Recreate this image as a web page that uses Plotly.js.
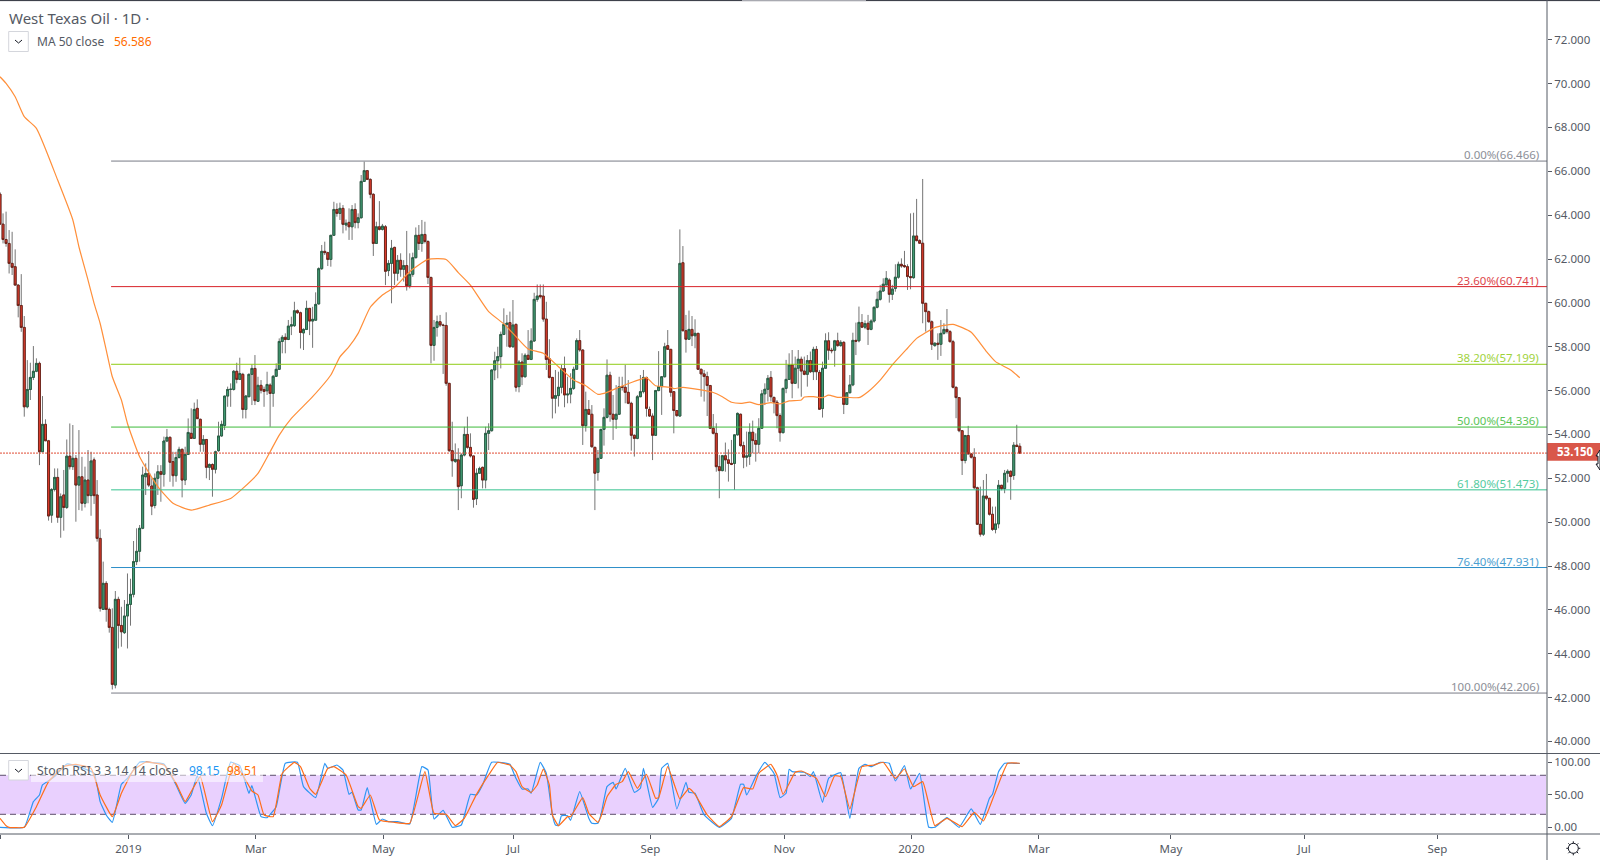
<!DOCTYPE html>
<html>
<head>
<meta charset="utf-8">
<title>West Texas Oil 1D</title>
<script src="https://cdn.plot.ly/plotly-3.0.1.min.js"></script>
<style>
html, body { margin: 0; padding: 0; background: #fff; }
#chart { width: 1600px; height: 860px; }
</style>
</head>
<body>
<div id="chart"></div>
<script>
'use strict';

// daily candles, one row per 10 bars
const opens = [
  64.96,63.59,62.89,62.71,61.80,61.65,60.81,59.88,58.88,55.26,
  56.05,56.60,56.88,57.24,53.21,54.46,53.71,50.32,51.49,52.04,
  50.22,51.24,50.67,53.01,52.53,52.91,51.69,52.07,50.86,51.92,
  51.21,52.84,51.24,49.26,46.02,47.21,46.02,45.20,42.57,46.48,
  45.29,44.96,45.72,46.25,46.71,48.20,48.67,49.72,52.07,52.22,
  51.65,50.76,52.00,52.30,52.18,53.70,53.87,52.76,52.12,52.95,
  53.32,51.92,53.09,54.05,53.82,55.19,54.69,53.55,53.77,52.50,
  52.63,52.41,53.26,53.93,54.41,55.75,56.05,56.05,56.88,56.51,
  56.74,55.14,55.72,56.74,57.01,55.51,56.24,56.05,55.99,56.25,
  55.87,56.65,56.97,58.24,58.43,58.33,58.94,58.96,59.64,59.55,
  58.63,58.79,59.75,59.17,59.21,59.95,61.56,62.35,62.29,61.98,
  63.08,64.26,64.08,64.31,63.55,63.67,63.47,64.26,63.66,63.88,
  65.54,66.03,65.63,64.95,62.71,63.47,63.35,63.47,61.47,61.80,
  62.53,61.35,61.94,61.53,61.70,60.78,61.30,62.06,63.08,62.71,
  63.12,62.80,61.16,58.06,58.88,59.14,58.99,58.97,56.33,53.26,
  52.77,52.84,51.66,53.06,54.00,53.41,53.02,51.07,52.23,52.50,
  51.92,54.05,54.17,56.94,57.36,57.55,58.56,59.02,59.10,58.00,
  59.02,56.18,57.30,56.63,57.61,57.42,58.26,60.16,60.34,60.31,
  59.26,57.45,56.60,55.65,55.77,56.15,57.00,55.80,55.84,56.10,
  56.97,58.28,57.85,54.40,55.14,54.92,53.41,52.27,52.91,54.23,
  54.78,56.70,54.92,54.69,54.92,56.18,56.15,55.92,55.42,53.96,
  53.82,55.72,55.95,56.60,55.14,54.84,53.96,56.00,56.18,56.63,
  58.05,57.88,55.95,55.09,54.84,61.83,58.73,58.34,58.79,58.50,
  58.61,56.97,56.76,56.64,56.23,54.28,54.05,52.53,52.35,53.03,
  52.84,52.68,52.68,53.98,54.92,53.49,52.96,53.00,54.10,53.72,
  53.55,54.28,55.85,56.06,56.60,55.69,55.47,54.86,54.08,56.10,
  56.51,57.17,56.33,57.02,57.43,56.89,56.74,57.37,56.86,57.88,
  56.83,55.18,57.02,58.27,57.84,57.84,58.27,58.05,58.20,55.37,
  55.90,56.26,58.29,58.27,59.10,58.89,59.07,58.79,59.17,59.80,
  60.16,60.54,60.82,61.04,60.39,60.66,61.17,61.76,61.70,61.65,
  61.20,61.15,63.05,62.84,62.72,59.98,59.60,59.14,58.05,58.16,
  58.11,58.61,58.79,58.69,58.23,56.15,55.68,54.17,52.81,53.95,
  53.11,52.96,51.57,49.90,49.45,51.19,51.09,50.36,49.67,49.92,
  51.68,51.53,52.23,52.32,52.13,53.51,53.46
];
const highs = [
  65.05,64.08,64.16,63.32,63.24,62.44,60.85,61.31,59.40,57.39,
  57.27,58.03,57.47,57.32,55.75,54.69,53.75,51.55,52.45,52.45,
  51.31,52.38,53.77,54.50,54.43,53.06,54.20,52.98,52.53,53.29,
  53.21,52.95,51.92,49.67,48.20,47.31,46.10,46.07,46.86,46.60,
  46.14,46.45,47.66,47.42,49.14,49.72,49.87,52.53,52.68,53.24,
  52.00,52.22,52.60,52.60,53.90,54.25,53.90,53.21,53.21,53.44,
  53.36,53.44,54.73,55.19,55.45,55.60,54.72,53.97,53.77,52.68,
  52.68,53.26,54.58,54.63,55.75,56.18,56.33,56.94,57.27,57.50,
  56.81,55.80,56.78,57.19,57.62,56.63,56.48,56.18,56.86,56.33,
  56.71,57.24,58.38,58.53,58.61,59.22,59.37,60.05,59.70,59.60,
  58.84,60.10,59.75,59.82,60.48,61.62,62.64,62.79,62.33,63.10,
  64.61,64.54,64.57,64.46,63.80,64.31,64.46,64.54,64.08,65.83,
  66.44,66.06,65.68,65.00,63.70,64.64,63.60,63.55,61.95,62.87,
  62.56,62.18,62.26,61.95,63.28,62.26,62.29,63.44,63.55,63.78,
  63.70,62.85,61.19,59.22,59.42,59.45,59.05,59.57,56.33,54.58,
  53.59,53.37,53.14,54.35,54.81,54.05,53.02,52.45,52.53,52.53,
  54.35,54.51,56.96,57.77,58.00,58.69,59.75,59.45,59.60,60.13,
  59.05,57.39,57.70,57.70,58.76,58.84,60.46,60.84,60.84,60.84,
  60.05,58.34,56.62,56.94,56.86,57.17,57.55,56.63,56.79,57.09,
  58.38,58.76,57.88,55.95,55.57,55.34,53.44,53.29,54.25,55.19,
  57.42,56.86,55.80,56.25,56.63,56.63,57.17,56.48,55.49,54.00,
  55.80,56.71,56.94,56.63,55.27,54.96,56.03,57.80,56.66,58.18,
  58.76,57.90,55.98,55.10,63.35,62.59,59.45,59.65,59.40,59.25,
  58.63,57.00,56.94,56.86,56.26,54.93,54.51,53.06,53.06,53.63,
  53.32,53.75,54.00,55.00,54.95,53.67,54.13,54.51,54.63,54.05,
  54.74,56.03,56.33,56.71,56.89,55.72,55.57,54.96,56.13,57.40,
  57.70,57.85,57.55,57.85,57.55,57.55,57.62,57.78,58.00,58.03,
  56.94,57.32,58.61,58.66,57.95,58.31,58.64,58.30,58.25,55.92,
  56.71,58.64,59.10,59.83,59.49,59.20,59.45,59.25,59.83,60.51,
  60.82,61.12,61.45,61.12,60.82,61.76,61.88,62.03,62.37,61.76,
  64.08,64.11,64.74,62.90,65.65,60.00,59.65,59.20,58.20,58.61,
  59.22,59.07,59.72,58.76,58.31,56.18,55.70,54.20,53.98,54.39,
  53.15,53.37,51.62,51.62,51.92,52.20,51.10,50.71,50.71,51.92,
  51.70,52.38,52.41,52.36,53.65,54.44,53.60
];
const lows = [
  63.59,62.71,62.56,61.34,61.27,60.81,59.34,58.68,54.81,55.19,
  55.57,56.48,56.84,52.60,53.21,53.71,50.07,49.97,51.40,49.97,
  49.29,49.61,50.60,52.40,52.38,50.02,50.55,50.52,50.67,50.86,
  50.29,50.83,49.11,45.92,46.02,45.46,44.96,42.37,42.42,44.24,
  44.32,44.90,44.24,45.28,46.57,48.04,48.20,49.68,51.24,51.60,
  50.32,50.63,51.24,50.93,51.62,53.65,51.84,51.62,51.84,52.90,
  51.13,51.69,53.06,53.80,53.80,54.72,53.21,53.21,52.00,51.92,
  51.16,52.22,53.21,53.90,54.20,55.26,55.26,56.00,56.33,56.48,
  54.73,54.73,55.70,55.34,55.34,55.49,55.87,55.26,55.80,54.35,
  55.26,56.63,56.94,57.70,57.70,58.30,58.53,58.90,59.50,57.92,
  57.85,58.76,58.53,57.95,59.21,59.93,61.50,62.18,61.68,61.65,
  63.05,63.93,63.78,63.17,63.30,62.87,62.87,63.40,63.40,63.85,
  65.52,65.60,64.77,62.14,62.70,63.30,63.30,60.81,61.22,59.98,
  60.81,61.01,61.19,60.97,60.56,60.66,61.19,62.03,62.41,62.33,
  62.71,60.86,57.24,57.36,58.46,58.90,56.76,56.22,53.20,52.07,
  52.70,50.55,51.09,53.00,53.35,52.95,50.66,50.78,52.20,51.54,
  51.54,53.29,54.13,56.48,56.56,57.01,58.53,58.00,57.95,57.95,
  55.95,55.92,56.25,56.60,57.40,57.39,58.23,60.05,60.20,59.14,
  56.94,56.55,54.73,54.96,55.27,55.87,55.24,55.42,55.42,56.03,
  56.94,57.77,53.52,54.13,54.90,53.40,50.55,51.89,52.88,53.49,
  54.73,54.58,53.75,54.25,54.89,56.00,55.42,55.38,53.26,52.99,
  53.78,55.70,55.87,54.81,54.80,52.83,53.93,55.97,54.89,56.60,
  57.85,55.72,54.05,54.80,54.81,58.70,57.73,58.31,58.03,57.93,
  56.94,55.72,55.50,54.84,54.25,54.00,52.30,51.09,52.32,52.30,
  51.85,52.60,51.47,53.95,53.44,52.46,52.53,52.61,53.14,52.76,
  53.14,54.25,55.34,55.50,55.50,54.96,54.28,53.67,54.05,55.88,
  56.48,55.65,56.30,56.10,55.72,56.70,56.18,56.80,56.48,56.48,
  55.12,54.77,56.99,57.40,57.70,57.09,58.00,58.00,54.93,55.34,
  55.88,56.20,57.62,58.20,58.85,58.80,58.08,58.75,59.10,59.75,
  60.10,60.50,60.80,60.01,60.13,60.51,61.10,61.60,61.60,60.59,
  60.62,61.10,62.80,62.70,59.07,58.69,59.10,57.85,58.00,57.40,
  57.58,58.55,58.60,58.20,56.10,54.74,54.10,52.15,52.68,53.10,
  52.90,51.50,49.87,49.34,49.37,51.00,50.30,49.60,49.49,49.72,
  51.45,51.32,51.81,51.02,51.93,53.42,53.11
];
const closes = [
  63.59,62.89,62.71,61.80,61.62,60.81,59.88,58.88,55.26,56.05,
  56.60,56.88,57.24,53.21,54.46,53.71,50.28,51.49,52.04,50.22,
  51.16,50.67,53.01,52.53,52.91,51.69,52.07,50.86,51.92,51.21,
  52.79,51.21,49.26,46.07,47.21,46.02,45.20,42.60,46.48,45.29,
  45.00,45.72,46.25,46.71,48.20,48.67,49.72,52.15,52.22,51.69,
  50.73,52.00,52.30,52.18,53.70,53.87,52.73,52.12,52.95,53.32,
  51.92,53.09,54.09,53.82,55.14,54.72,53.55,53.77,52.50,52.63,
  52.41,53.21,53.93,54.46,55.75,56.05,56.06,56.88,56.51,56.78,
  55.14,55.75,56.74,57.01,55.54,56.24,56.02,55.96,56.28,55.87,
  56.65,56.97,58.24,58.43,58.33,58.94,59.00,59.64,59.55,58.65,
  58.79,59.75,59.17,59.25,59.93,61.56,62.35,62.29,61.98,63.08,
  64.26,64.08,64.31,63.58,63.63,63.47,64.26,63.66,63.88,65.54,
  66.03,65.63,64.95,62.71,63.47,63.35,63.50,61.44,61.80,62.49,
  61.35,61.94,61.53,61.70,60.78,61.30,62.06,63.08,62.71,63.12,
  62.80,61.16,58.06,58.88,59.14,58.99,58.97,56.33,53.26,52.80,
  52.86,51.62,53.06,54.00,53.41,53.02,51.04,52.23,52.45,51.92,
  54.05,54.17,56.94,57.36,57.55,58.56,59.02,59.07,58.00,58.99,
  56.15,57.30,56.63,57.61,57.42,58.26,60.16,60.31,60.28,59.26,
  57.42,56.60,55.65,55.77,56.15,57.00,55.80,55.84,56.10,56.97,
  58.28,57.85,54.40,55.14,54.92,53.44,52.23,52.91,54.23,54.78,
  56.70,54.92,54.69,54.92,56.18,56.15,55.92,55.42,53.96,53.82,
  55.72,55.95,56.60,55.19,54.84,53.96,56.00,56.18,56.63,58.00,
  57.88,55.92,55.09,54.86,61.80,58.73,58.34,58.79,58.50,58.61,
  56.97,56.76,56.64,56.23,54.28,54.05,52.53,52.35,53.03,52.84,
  52.68,52.64,53.98,54.96,53.49,52.96,53.02,54.10,53.72,53.55,
  54.28,55.85,56.06,56.56,55.72,55.47,54.86,54.08,56.10,56.51,
  57.17,56.33,57.02,57.43,56.89,56.74,57.37,56.86,57.88,56.86,
  55.15,57.02,58.27,57.84,57.82,58.27,58.05,58.20,55.37,55.90,
  56.26,58.29,58.25,59.11,58.89,59.05,58.79,59.17,59.80,60.16,
  60.54,60.85,61.12,60.39,60.63,61.17,61.76,61.68,61.65,61.20,
  61.15,63.05,62.84,62.72,59.98,59.60,59.14,58.11,58.16,58.11,
  58.61,58.79,58.69,58.23,56.15,55.68,54.17,52.81,53.95,53.11,
  52.96,51.57,49.90,49.45,51.19,51.09,50.36,49.67,49.92,51.68,
  51.53,52.23,52.32,52.08,53.51,53.45,53.15
];

// MA 50, read at the bars where the curve bends
const maBars = [0,2,5,8,12,19,24,26,29,31,33,35,37,40,42,46,52,57,63,69,76,80,85,89,92,96,103,109,112,
  115,118,122,126,130,135,141,147,151,155,161,166,170,174,179,184,189,193,197,200,205,211,213,216,221,
  222,225,231,235,238,241,244,247,250,254,257,260,264,265,268,271,273,276,279,283,286,290,294,299,302,308,314,320,325,328,333,336];
const maValues = [70.31,70.01,69.40,68.49,67.96,65.60,63.78,62.56,61.04,59.98,59.06,57.85,56.63,55.57,54.50,52.98,51.62,50.86,50.55,50.78,51.08,51.54,52.22,53.21,53.97,54.73,55.72,56.71,57.54,
  58.00,58.61,59.80,60.36,60.71,61.42,61.98,61.98,61.38,60.81,59.60,59.04,58.46,57.90,57.70,57.09,56.48,56.22,55.83,55.92,56.21,56.51,56.59,56.22,56.15,
  56.09,56.15,56.03,55.91,55.72,55.47,55.42,55.47,55.36,55.45,55.39,55.53,55.57,55.71,55.72,55.68,55.79,55.69,55.69,55.68,55.95,56.48,57.17,57.93,58.38,58.87,59.02,58.66,57.78,57.32,56.94,56.586];

// stoch RSI lines, read at their turning points
const kBars = [0,8,11,13,14,18,22,26,31,33,35,37,40,42,46,49,54,58,61,63,65,68,70,73,76,79,82,83,86,88,91,94,98,100,104,107,108,111,113,115,116,118,119,121,124,126,128,131,135,139,141,143,146,149,152,155,157,159,162,167,
  168,170,172,174,175,178,180,182,183,184,185,187,188,191,194,195,197,198,200,202,203,206,209,211,212,215,217,218,220,223,226,227,229,232,237,241,244,245,246,249,252,255,257,259,260,261,265,267,268,271,273,277,280,283,285,287,290,293,295,298,300,303,306,308,312,316,320,323,326,327,329,331,334,336];
const kValues = [0,0,39.4,49.7,65.1,77.9,97.4,93.3,83,39.4,19,7.6,66.1,75.3,100,100,97.4,65.1,36.9,49.7,79.4,21.5,2.5,44.6,100,94.8,52.3,64,16.4,14.8,31.7,98.4,100,62.5,45.6,98.4,90.7,95.8,88.2,50.7,53.8,26.6,26.6,61,4.6,12.8,8.7,8.7,5.1,93.3,88.2,12.8,26.1,0,3.5,50.7,49.7,65.1,100,98.4,
  96.9,75.3,58.9,58.9,52.3,100,83,19,3.5,2.5,17.9,17.9,10.7,54.8,13.8,6.1,6.1,19,62.5,69.2,58.9,90.7,53.8,60,90.7,30.7,44.6,90.7,98.4,28.2,69.2,53.8,52.3,19,0,13.8,66.1,66.1,49.7,77.9,100,83,45.6,52.3,89.2,85.6,84.6,77.9,85.6,38.4,75.3,84,13.8,90.7,96.9,93.3,100,98.4,71.2,94.8,58.9,83,0,0,14.8,0,28.2,4.6,44.6,50.7,85.6,98.4,98.4,98.15];
const dBars = [0,2,3,8,12,16,21,25,30,33,37,40,44,48,54,58,61,63,66,70,73,77,80,83,85,87,90,93,97,99,102,104,108,110,114,118,119,122,125,130,135,140,143,147,150,153,157,161,164,167,
  168,170,172,175,177,179,181,182,184,187,188,192,194,197,198,200,203,205,207,210,213,216,217,220,224,227,229,233,237,241,245,248,250,254,256,258,262,264,269,272,275,277,280,284,288,291,295,298,301,304,308,312,317,321,324,328,332,336];
const dValues = [13.8,2.5,0,0,31.7,70.2,93.3,96.9,90.7,49.7,16.4,52.3,88.2,100,95.8,67.6,39.4,54.8,77.9,8.7,34.3,98.4,80.5,55.8,49.7,19,16.4,83,100,93.3,60,50.7,90.7,93.3,80.5,31.7,29.2,49.7,11.2,7.6,6.1,85.6,21.5,20,2.5,13.8,50.7,80.5,100,96.9,
  95.8,85.6,62.5,53.8,65.1,89.7,65.1,19,2.5,16.4,16.4,45.6,21.5,7.6,16.4,47.1,66.1,70.2,85.6,60,81.5,44.6,45.6,93.3,43.5,60,50.7,19,1,16.4,61,58.9,83,96.9,80.5,50.7,84.6,86.6,75.3,47.1,79.4,77.9,28.2,93.3,95.8,100,75.3,89.7,62.5,70.2,2.5,13.8,1,23,9.7,54.8,98.4,98.51];

// time scale is by bar, not by calendar
const timeTickBars = [0.3,42.3,84.25,126.3,169.1,214.3,258.4,300.3,342.3,385.8,429.7,473.6];
const timeTickLabels = ['Nov','2019','Mar','May','Jul','Sep','Nov','2020','Mar','May','Jul','Sep'];

// fibonacci retracement
const fibRatios = ['0.00%','23.60%','38.20%','50.00%','61.80%','76.40%','100.00%'];
const fibPrices = [66.466,60.741,57.199,54.336,51.473,47.931,42.206];
const fibColors = ['#787b86','#d8232a','#8fcc15','#3dbb3a','#35c28f','#2d8fc9','#787b86'];
const fibStartBar = 36.6;

const lastPrice = 53.150;
const stochTicks = [0,50,100];
const stochTickLabels = ['0.00','50.00','100.00'];

const FONT = '"Noto Sans", sans-serif';
const GREY = '#555a64';

// plot area in page pixels, used for the things drawn around the axes
const plotW = 1547, plotTop = 2, plotBottom = 834, splitY = 753.5;
const plotH = plotBottom - plotTop;
const px = x => x / plotW;
const py = y => 1 - (y - plotTop) / plotH;

function pageLine(x0, y0, x1, y1, color, width) {
    return {type: 'line', xref: 'paper', yref: 'paper', x0: px(x0), y0: py(y0), x1: px(x1), y1: py(y1),
        line: {color: color, width: width || 1}};
}
function pagePath(points, color, fill) {
    let d = points.map((p, i) => (i ? 'L' : 'M') + px(p[0]) + ',' + py(p[1])).join(' ');
    if (fill) d += ' Z';
    return {type: 'path', xref: 'paper', yref: 'paper', path: d,
        line: {color: color, width: 1}, fillcolor: fill || 'rgba(0,0,0,0)'};
}
function pageRect(x0, y0, x1, y1, fill, lineColor) {
    return {type: 'rect', xref: 'paper', yref: 'paper', x0: px(x0), y0: py(y0), x1: px(x1), y1: py(y1),
        fillcolor: fill, line: {color: lineColor || 'rgba(0,0,0,0)', width: lineColor ? 1 : 0}};
}
function pageText(x, y, text, size, color, anchor) {
    return {xref: 'paper', yref: 'paper', x: px(x), y: py(y), text: text, showarrow: false, borderpad: 0,
        xanchor: anchor || 'left', yanchor: 'middle', font: {family: FONT, size: size, color: color}};
}
function chevron(cx, cy) {
    return pagePath([[cx - 3.5, cy - 1.5], [cx, cy + 1.5], [cx + 3.5, cy - 1.5]], '#131722');
}

const bars = closes.map((c, i) => i);
const bodyTop = opens.map((o, i) => Math.max(o, closes[i]));
const bodyBottom = opens.map((o, i) => Math.min(o, closes[i]));

const traces = [
    {   // the wicks are grey, so they get their own trace under the bodies
        type: 'candlestick', x: bars, open: opens, high: highs, low: lows, close: closes,
        whiskerwidth: 0, hoverinfo: 'skip', showlegend: false,
        increasing: {line: {color: '#757575', width: 1}, fillcolor: '#757575'},
        decreasing: {line: {color: '#757575', width: 1}, fillcolor: '#757575'}
    },
    {
        type: 'candlestick', x: bars, open: opens, high: bodyTop, low: bodyBottom, close: closes,
        whiskerwidth: 0, hoverinfo: 'skip', showlegend: false,
        increasing: {line: {color: '#245a41', width: 0.9}, fillcolor: '#45a078'},
        decreasing: {line: {color: '#6a2016', width: 0.9}, fillcolor: '#e23d2d'}
    },
    {
        type: 'scatter', mode: 'lines', x: maBars, y: maValues, hoverinfo: 'skip', showlegend: false,
        line: {color: '#ff8f3a', width: 1.2, shape: 'spline', smoothing: 0.5}
    },
    {
        type: 'scatter', mode: 'lines', x: kBars, y: kValues, xaxis: 'x', yaxis: 'y2', hoverinfo: 'skip', showlegend: false,
        line: {color: '#2e96f3', width: 1.2, shape: 'spline', smoothing: 0.35}
    },
    {
        type: 'scatter', mode: 'lines', x: dBars, y: dValues, xaxis: 'x', yaxis: 'y2', hoverinfo: 'skip', showlegend: false,
        line: {color: '#ff6d1a', width: 1.2, shape: 'spline', smoothing: 0.35}
    }
];

const shapes = [];
const annotations = [];

// stoch band and its dashed limits go under the lines
shapes.push({type: 'rect', layer: 'below', xref: 'paper', yref: 'y2', x0: 0, x1: px(1546), y0: 20, y1: 80,
    fillcolor: '#e9d0fe', line: {width: 0}});
[20, 80].forEach(v => shapes.push({type: 'line', layer: 'below', xref: 'paper', yref: 'y2', x0: 0, x1: 1, y0: v, y1: v,
    line: {color: '#5d4e6b', width: 1, dash: '6px,4px'}}));

fibPrices.forEach((p, i) => {
    shapes.push({type: 'line', xref: 'x', yref: 'y', x0: fibStartBar, x1: 509.7, y0: p, y1: p,
        line: {color: fibColors[i], width: 1}});
    annotations.push({xref: 'paper', yref: 'y', x: px(1540), y: p, xanchor: 'right', yanchor: 'bottom', yshift: -2,
        showarrow: false, borderpad: 0, opacity: 0.85,
        text: fibRatios[i] + '(' + p.toFixed(3) + ')',
        font: {family: FONT, size: 11.5, color: fibColors[i]}});
});

// last price
shapes.push({type: 'line', xref: 'paper', yref: 'y', x0: 0, x1: 1, y0: lastPrice, y1: lastPrice,
    line: {color: '#e04a33', width: 1, dash: '2px,1px'}});
shapes.push(pageRect(1547, 443, 1600, 460.7, '#d9574a'));
annotations.push(pageText(1555.5, 451.8, '<b>' + lastPrice.toFixed(3) + '</b>', 11.5, '#ffffff'));

// frame
shapes.push(pageLine(0, 0.6, 1600, 0.6, '#2a2e39'));
shapes.push(pageLine(742, 0.6, 866, 0.6, '#b4b6bc'));
shapes.push(pageLine(0, splitY, 1600, splitY, GREY));
shapes.push(pageLine(0, plotBottom, 1600, plotBottom, GREY));
shapes.push(pageLine(plotW, 0, plotW, 860, GREY));

// legends
annotations.push(pageText(8, 17.5, 'West Texas Oil · 1D ·', 15, '#555a64'));
shapes.push(pageRect(8.7, 31.5, 28.3, 51.5, '#ffffff', '#d4d6dc'));
shapes.push(chevron(18.5, 41.5));
annotations.push(pageText(35.5, 41.5, 'MA 50 close', 12, '#555a64'));
annotations.push(pageText(113, 41.5, '56.586', 12, '#ff6d00'));

shapes.push(pageRect(31, 762, 263, 782, 'rgba(255,255,255,0.55)'));
shapes.push(pageRect(8.7, 760.5, 28.3, 780, '#ffffff', '#d4d6dc'));
shapes.push(chevron(18.5, 770.5));
annotations.push(pageText(35.5, 770.5, 'Stoch RSI 3 3 14 14 close', 12.3, '#555a64'));
annotations.push(pageText(187.5, 770.5, '98.15', 12, '#2196f3'));
annotations.push(pageText(226, 770.5, '98.51', 12, '#ff6d00'));

// settings gear in the corner
const gearX = 1573.3, gearY = 848.3;
shapes.push({type: 'circle', xref: 'paper', yref: 'paper', x0: px(gearX - 5), x1: px(gearX + 5), y0: py(gearY + 5), y1: py(gearY - 5),
    line: {color: '#131722', width: 1}, fillcolor: '#ffffff'});
for (let a = 0; a < 8; a++) {
    const c = Math.cos(a * Math.PI / 4), s = Math.sin(a * Math.PI / 4);
    shapes.push(pageLine(gearX + 5 * c, gearY + 5 * s, gearX + 7 * c, gearY + 7 * s, '#131722'));
}
// mouse pointer left on the price scale
shapes.push(pagePath([[1600, 450], [1596, 456], [1598, 456], [1598, 464], [1596, 464], [1600, 470]], '#131722', '#ffffff'));

const layout = {
    width: 1600, height: 860,
    margin: {l: 0, r: 1600 - plotW, t: plotTop, b: 860 - plotBottom, pad: 0},
    paper_bgcolor: '#ffffff', plot_bgcolor: '#ffffff',
    showlegend: false, dragmode: false, boxgap: 0.08,
    font: {family: FONT, size: 11.5, color: GREY},
    xaxis: {
        range: [0, 509.7], anchor: 'y2', rangeslider: {visible: false},
        tickmode: 'array', tickvals: timeTickBars, ticktext: timeTickLabels,
        ticks: 'outside', ticklen: 4, tickcolor: GREY, tickwidth: 1,
        showgrid: false, zeroline: false, showline: false,
        tickfont: {family: FONT, size: 11.5, color: GREY}
    },
    yaxis: {
        domain: [(plotBottom - splitY) / plotH, 1], range: [39.45, 73.72], side: 'right', anchor: 'x',
        tick0: 40, dtick: 2, tickformat: '.3f',
        ticks: 'outside', ticklen: 4, tickcolor: GREY, tickwidth: 1,
        showgrid: false, zeroline: false, showline: false,
        tickfont: {family: FONT, size: 11.5, color: GREY}
    },
    yaxis2: {
        domain: [0, (plotBottom - splitY) / plotH], range: [-10.3, 113.5], side: 'right', anchor: 'x',
        tickmode: 'array', tickvals: stochTicks, ticktext: stochTickLabels,
        ticks: 'outside', ticklen: 4, tickcolor: GREY, tickwidth: 1,
        showgrid: false, zeroline: false, showline: false,
        tickfont: {family: FONT, size: 11.5, color: GREY}
    },
    shapes: shapes,
    annotations: annotations
};

Plotly.newPlot('chart', traces, layout, {displayModeBar: false, responsive: false});
</script>
</body>
</html>
